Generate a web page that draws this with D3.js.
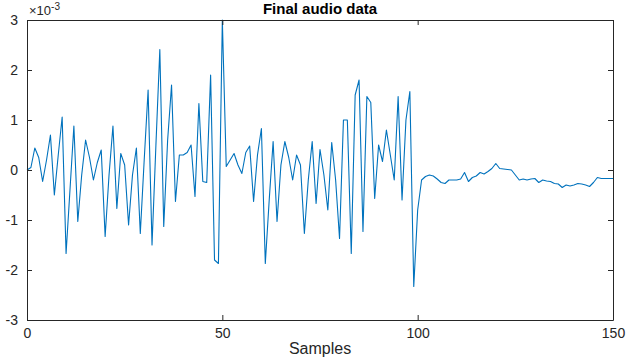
<!DOCTYPE html>
<html>
<head>
<meta charset="utf-8">
<script src="https://cdn.jsdelivr.net/npm/d3@7"></script>
<style>
  body { margin: 0; background: #fff; }
  svg { display: block; font-family: "Liberation Sans", Arial, sans-serif; }
</style>
</head>
<body>
<div id="chart"></div>
<script>
// samples 0..150, values in units of 1e-3
const samples = d3.range(0, 151);
const audio = [
  0.0, 0.05, 0.44, 0.25, -0.23, 0.2, 0.7, -0.5, 0.3, 1.06,
  -1.67, -0.4, 0.88, -1.03, -0.1, 0.6, 0.25, -0.2, 0.15, 0.4,
  -1.33, -0.1, 0.88, -0.77, 0.33, 0.1, -1.1, -0.1, 0.44, -1.27,
  0.2, 1.6, -1.5, 0.5, 2.41, -1.13, 0.6, 1.7, -0.63, 0.3,
  0.3, 0.35, 0.5, -0.53, 1.33, -0.23, -0.25, 1.9, -1.8, -1.87,
  3.0, 0.07, 0.2, 0.33, 0.1, -0.07, 0.35, 0.48, -0.63, 0.3,
  0.83, -1.87, -0.6, 0.57, -1.03, 0.1, 0.57, 0.25, -0.2, 0.3,
  0.1, -1.27, -0.2, 0.57, -0.67, 0.41, -0.1, -0.8, 0.55, -0.2,
  -1.37, 1.0, 1.0, -1.67, 1.5, 1.8, -1.23, 1.47, 1.35, -0.57,
  0.5, 0.17, 0.8, 0.3, -0.2, 1.47, -0.6, 1.0, 1.57, -2.33,
  -0.8, -0.2, -0.13, -0.1, -0.12, -0.18, -0.25, -0.27, -0.2, -0.2,
  -0.2, -0.18, -0.05, -0.23, -0.15, -0.12, -0.05, -0.08, -0.03, 0.03,
  0.13, 0.03, 0.02, 0.01, 0.0, -0.1, -0.2, -0.18, -0.2, -0.18,
  -0.17, -0.25, -0.2, -0.22, -0.23, -0.27, -0.28, -0.35, -0.3, -0.32,
  -0.3, -0.27, -0.28, -0.3, -0.33, -0.25, -0.15, -0.17, -0.17, -0.17,
  -0.17
];
const xTicks = [0, 50, 100, 150];
const yTicks = [-3, -2, -1, 0, 1, 2, 3];

const width = 626, height = 358;
const margin = { top: 20, right: 13, bottom: 38, left: 27 };
const innerW = width - margin.left - margin.right;
const innerH = height - margin.top - margin.bottom;
const axisColor = '#262626';

const svg = d3.select('#chart').append('svg')
  .attr('width', width)
  .attr('height', height);

const g = svg.append('g')
  .attr('transform', `translate(${margin.left},${margin.top})`);

const x = d3.scaleLinear().domain([0, 150]).range([0, innerW]);
const y = d3.scaleLinear().domain([-3, 3]).range([innerH, 0]);

// data line
const line = d3.line()
  .x((d, i) => x(samples[i]))
  .y(d => y(d));

g.append('path')
  .datum(audio)
  .attr('fill', 'none')
  .attr('stroke', '#0072BD')
  .attr('stroke-width', 1.1)
  .attr('stroke-linejoin', 'round')
  .attr('d', line);

// box axes, ticks pointing inward (matlab style)
function styleAxis(sel) {
  sel.selectAll('path').attr('stroke', axisColor);
  sel.selectAll('line').attr('stroke', axisColor);
  sel.selectAll('text').attr('fill', axisColor).style('font-size', '14px');
}

const plain = d => String(d);

const xBottom = g.append('g')
  .attr('transform', `translate(0,${innerH})`)
  .call(d3.axisBottom(x).tickValues(xTicks).tickFormat(plain).tickSize(-5).tickPadding(8).tickSizeOuter(0));
styleAxis(xBottom);

const xTop = g.append('g')
  .call(d3.axisTop(x).tickValues(xTicks).tickSize(-5).tickFormat('').tickSizeOuter(0));
styleAxis(xTop);

const yLeft = g.append('g')
  .call(d3.axisLeft(y).tickValues(yTicks).tickFormat(plain).tickSize(-5).tickPadding(9).tickSizeOuter(0));
styleAxis(yLeft);

const yRight = g.append('g')
  .attr('transform', `translate(${innerW},0)`)
  .call(d3.axisRight(y).tickValues(yTicks).tickSize(-5).tickFormat('').tickSizeOuter(0));
styleAxis(yRight);

// exponent label
const expo = svg.append('text')
  .attr('x', margin.left + 2)
  .attr('y', 15)
  .attr('fill', axisColor)
  .style('font-size', '13px');
expo.append('tspan').text('\u00d710');
expo.append('tspan').attr('dy', -5).style('font-size', '10px').text('-3');

// title
svg.append('text')
  .attr('x', margin.left + innerW / 2)
  .attr('y', 14)
  .attr('text-anchor', 'middle')
  .attr('fill', '#000')
  .style('font-size', '15px')
  .style('font-weight', 'bold')
  .text('Final audio data');

// x label
svg.append('text')
  .attr('x', margin.left + innerW / 2)
  .attr('y', 354)
  .attr('text-anchor', 'middle')
  .attr('fill', axisColor)
  .style('font-size', '16px')
  .text('Samples');
</script>
</body>
</html>
